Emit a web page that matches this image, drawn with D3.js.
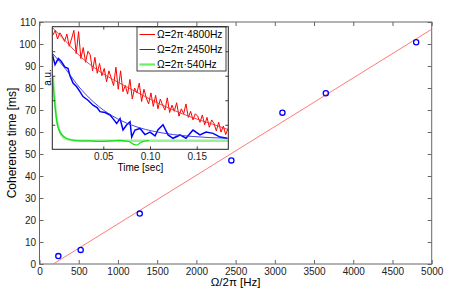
<!DOCTYPE html>
<html>
<head>
<meta charset="utf-8">
<script src="https://cdn.jsdelivr.net/npm/d3@7"></script>
<style>
  body { margin: 0; background: #fff; }
  svg { font-family: "Liberation Sans", Arial, Helvetica, sans-serif; }
  .tick text { fill: #222; }
</style>
</head>
<body>
<div id="chart"></div>
<script>
// main plot: measured coherence time vs drive frequency
const freqHz = [240, 525, 1278, 2446, 3097, 3650, 4802];
const coherenceMs = [3.6, 6.4, 22.9, 47.1, 68.8, 77.6, 100.8];
const fitFreq = [176, 5000];
const fitMs = [0, 106.7];
const xTicks = [0, 500, 1000, 1500, 2000, 2500, 3000, 3500, 4000, 4500, 5000];
const yTicks = [0, 10, 20, 30, 40, 50, 60, 70, 80, 90, 100, 110];

// inset: decay traces (a.u.), sampled every 2.5 ms for the red trace
const redStart = -0.004, redStep = 0.0025;
const redData = [93, 97, 90, 95, 92, 88, 94, 84, 90, 97, 78, 96, 74, 83, 71, 80, 77, 64, 75, 62,
  70, 60, 66, 55, 64, 58, 52, 67, 49, 64, 47, 52, 45, 57, 41, 50, 46, 54, 39, 49,
  42, 37, 46, 35, 44, 33, 41, 36, 32, 42, 30, 36, 31, 38, 27, 33, 29, 37, 26, 31,
  24, 29, 27, 22, 28, 20, 26, 18, 24, 21, 15, 22, 14, 19, 12, 17];
const blueTime = [-0.0046, -0.0017, 0.0018, 0.0047, 0.009, 0.0122, 0.0143, 0.0176, 0.0215, 0.025,
  0.0283, 0.0336, 0.039, 0.0433, 0.0465, 0.0518, 0.0572, 0.0604, 0.0643, 0.0679,
  0.0711, 0.0751, 0.0786, 0.0804, 0.0839, 0.0893, 0.0946, 0.1, 0.1054, 0.1086,
  0.1139, 0.1193, 0.1246, 0.1321, 0.1385, 0.146, 0.1535, 0.16, 0.1675, 0.175, 0.1825];
const blueData = [77.5, 69, 74, 72, 67, 66, 60, 54, 51, 47,
  43, 40, 36, 34, 30.7, 30, 28, 25, 21, 25,
  15.7, 20, 22.5, 10, 15.7, 17, 12, 14, 11, 16,
  20, 11.7, 9, 11.7, 9, 15.7, 11.7, 14, 13, 10, 9];
const greenTime = [-0.0042, -0.0028, -0.0012, 0.0004, 0.0026, 0.0058, 0.01, 0.0165, 0.025, 0.0358,
  0.0465, 0.0572, 0.0679, 0.0732, 0.0786, 0.0829, 0.0861, 0.0893, 0.0946, 0.099];
const greenData = [59, 44, 32, 22, 15.7, 11.7, 9.2, 7.6, 6.8, 6.8,
  6.5, 6.8, 7.2, 6.8, 6, 3.9, 3.5, 5.1, 6.8, 7.2];
// fitted curves
const fitTime = [-0.004, 0.01, 0.025, 0.045, 0.065, 0.085, 0.105, 0.125, 0.145, 0.165, 0.184];
const redFit = [98.9, 88, 76, 64, 55, 47, 39, 32, 26, 21, 16];
const blueFit = [78, 65, 50, 35, 25, 18.5, 14.5, 12, 10.5, 9.5, 9];
const greenFitTime = [-0.004, 0, 0.005, 0.01, 0.02, 0.04, 0.184];
const greenFit = [60, 25, 12, 8.5, 7.3, 7, 7];
const insetXTicks = [0.05, 0.1, 0.15];
const insetYTicks = [20, 40, 60, 80];
const legendLabels = ['Ω=2π·4800Hz', 'Ω=2π·2450Hz', 'Ω=2π·540Hz'];

const width = 463, height = 298;
const svg = d3.select('#chart').append('svg')
  .attr('width', width)
  .attr('height', height);

const x = d3.scaleLinear([0, 5000], [39.5, 431.7]);
const y = d3.scaleLinear([0, 110], [264, 22]);

/* ------- main axes ------- */
const axisColor = '#666';
svg.append('g')
  .attr('transform', `translate(0,${y(0)})`)
  .call(d3.axisBottom(x).tickValues(xTicks).tickFormat(d3.format('d'))
    .tickSizeInner(-4).tickSizeOuter(0).tickPadding(4))
  .attr('font-size', 10)
  .call(g => g.select('.domain').remove());
svg.append('g')
  .attr('transform', `translate(0,${y(110)})`)
  .call(d3.axisTop(x).tickValues(xTicks).tickSizeInner(-4).tickSizeOuter(0).tickFormat(''))
  .call(g => g.select('.domain').remove());
svg.append('g')
  .attr('transform', `translate(${x(0)},0)`)
  .call(d3.axisLeft(y).tickValues(yTicks).tickSizeInner(-4).tickSizeOuter(0).tickPadding(3.5))
  .attr('font-size', 10)
  .call(g => g.select('.domain').remove());
svg.append('g')
  .attr('transform', `translate(${x(5000)},0)`)
  .call(d3.axisRight(y).tickValues(yTicks).tickSizeInner(-4).tickSizeOuter(0).tickFormat(''))
  .call(g => g.select('.domain').remove());
svg.selectAll('.tick line').attr('stroke', axisColor);

svg.append('rect')
  .attr('x', x(0)).attr('y', y(110))
  .attr('width', x(5000) - x(0)).attr('height', y(0) - y(110))
  .attr('fill', 'none').attr('stroke', axisColor).attr('stroke-width', 1);

// axis labels
svg.append('text')
  .attr('x', (x(0) + x(5000)) / 2).attr('y', 286)
  .attr('text-anchor', 'middle').attr('font-size', 11.5)
  .text('Ω/2π [Hz]');
svg.append('text')
  .attr('transform', `translate(16,${(y(0) + y(110)) / 2}) rotate(-90)`)
  .attr('text-anchor', 'middle').attr('font-size', 12)
  .text('Coherence time [ms]');

/* ------- fit line and points ------- */
svg.append('defs').append('clipPath').attr('id', 'mainClip')
  .append('rect')
  .attr('x', x(0)).attr('y', y(110))
  .attr('width', x(5000) - x(0)).attr('height', y(0) - y(110));

svg.append('path')
  .datum(d3.zip(fitFreq, fitMs))
  .attr('clip-path', 'url(#mainClip)')
  .attr('fill', 'none')
  .attr('stroke', '#ff6a6a')
  .attr('stroke-width', 0.9)
  .attr('d', d3.line().x(d => x(d[0])).y(d => y(d[1])));

svg.append('g').selectAll('circle')
  .data(d3.zip(freqHz, coherenceMs))
  .enter()
  .append('circle')
  .attr('cx', d => x(d[0]))
  .attr('cy', d => y(d[1]))
  .attr('r', 2.6)
  .attr('fill', 'none')
  .attr('stroke', '#0000ff')
  .attr('stroke-width', 1.3);

/* ------- inset ------- */
const xi = d3.scaleLinear([-0.0046, 0.1838], [52.3, 228.3]);
const yi = d3.scaleLinear([0, 100], [149.3, 26.7]);
const inset = svg.append('g');

inset.append('rect')
  .attr('x', xi.range()[0]).attr('y', yi.range()[1])
  .attr('width', xi.range()[1] - xi.range()[0]).attr('height', yi.range()[0] - yi.range()[1])
  .attr('fill', '#fff');

inset.append('defs').append('clipPath').attr('id', 'insetClip')
  .append('rect')
  .attr('x', xi.range()[0]).attr('y', yi.range()[1])
  .attr('width', xi.range()[1] - xi.range()[0]).attr('height', yi.range()[0] - yi.range()[1]);

const line = d3.line().x(d => xi(d[0])).y(d => yi(d[1]));
const smooth = d3.line().x(d => xi(d[0])).y(d => yi(d[1])).curve(d3.curveMonotoneX);
const plot = inset.append('g').attr('clip-path', 'url(#insetClip)');

// green fit sits under everything
plot.append('path')
  .datum(d3.zip(greenFitTime, greenFit))
  .attr('fill', 'none').attr('stroke', '#99f099').attr('stroke-width', 2.4)
  .attr('d', smooth);
plot.append('path')
  .datum(d3.zip(greenTime, greenData))
  .attr('fill', 'none').attr('stroke', '#11dd11').attr('stroke-width', 1.2)
  .attr('d', smooth);

plot.append('path')
  .datum(redData.map((v, i) => [redStart + i * redStep, v]))
  .attr('fill', 'none').attr('stroke', '#ff0000').attr('stroke-width', 1)
  .attr('d', line);
plot.append('path')
  .datum(d3.zip(fitTime, redFit))
  .attr('fill', 'none').attr('stroke', '#e83030').attr('stroke-width', 0.9)
  .attr('d', smooth);

plot.append('path')
  .datum(d3.zip(blueTime, blueData))
  .attr('fill', 'none').attr('stroke', '#0000ff').attr('stroke-width', 1.5)
  .attr('d', line);
plot.append('path')
  .datum(d3.zip(fitTime, blueFit))
  .attr('fill', 'none').attr('stroke', '#3030e0').attr('stroke-width', 0.9)
  .attr('d', smooth);

// inset axes
inset.append('g')
  .attr('transform', `translate(0,${yi(0)})`)
  .call(d3.axisBottom(xi).tickValues(insetXTicks).tickSizeInner(-3).tickSizeOuter(0).tickPadding(4))
  .attr('font-size', 10)
  .call(g => g.select('.domain').remove());
inset.append('g')
  .attr('transform', `translate(0,${yi(100)})`)
  .call(d3.axisTop(xi).tickValues(insetXTicks).tickSizeInner(-3).tickSizeOuter(0).tickFormat(''))
  .call(g => g.select('.domain').remove());
inset.append('g')
  .attr('transform', `translate(${xi.range()[0]},0)`)
  .call(d3.axisLeft(yi).tickValues(insetYTicks).tickSizeInner(-3).tickSizeOuter(0).tickFormat(''))
  .call(g => g.select('.domain').remove());
inset.append('g')
  .attr('transform', `translate(${xi.range()[1]},0)`)
  .call(d3.axisRight(yi).tickValues(insetYTicks).tickSizeInner(-3).tickSizeOuter(0).tickFormat(''))
  .call(g => g.select('.domain').remove());
inset.selectAll('.tick line').attr('stroke', '#444');

inset.append('rect')
  .attr('x', xi.range()[0]).attr('y', yi.range()[1])
  .attr('width', xi.range()[1] - xi.range()[0]).attr('height', yi.range()[0] - yi.range()[1])
  .attr('fill', 'none').attr('stroke', '#222').attr('stroke-width', 1);

inset.append('text')
  .attr('x', (xi.range()[0] + xi.range()[1]) / 2).attr('y', 171)
  .attr('text-anchor', 'middle').attr('font-size', 10)
  .text('Time [sec]');
inset.append('text')
  .attr('transform', 'translate(50.5,77.5) rotate(-90)')
  .attr('text-anchor', 'middle').attr('font-size', 10)
  .text('a.u.');

/* ------- legend ------- */
const legendColors = ['#ff0000', '#2020ff', '#66ee66'];
const legendWidths = [1, 1, 2.2];
const legend = inset.append('g');
legend.append('rect')
  .attr('x', 137).attr('y', 27).attr('width', 89).attr('height', 44)
  .attr('fill', '#fff').attr('stroke', '#111').attr('stroke-width', 0.8);
const entries = legend.selectAll('g.entry')
  .data(legendLabels)
  .enter()
  .append('g')
  .attr('class', 'entry')
  .attr('transform', (d, k) => `translate(0,${34.5 + k * 15})`);
entries.append('line')
  .attr('x1', 139.5).attr('x2', 155)
  .attr('stroke', (d, k) => legendColors[k])
  .attr('stroke-width', (d, k) => legendWidths[k]);
entries.append('text')
  .attr('x', 157).attr('dy', '0.35em')
  .attr('font-size', 10.3)
  .text(d => d);
</script>
</body>
</html>
